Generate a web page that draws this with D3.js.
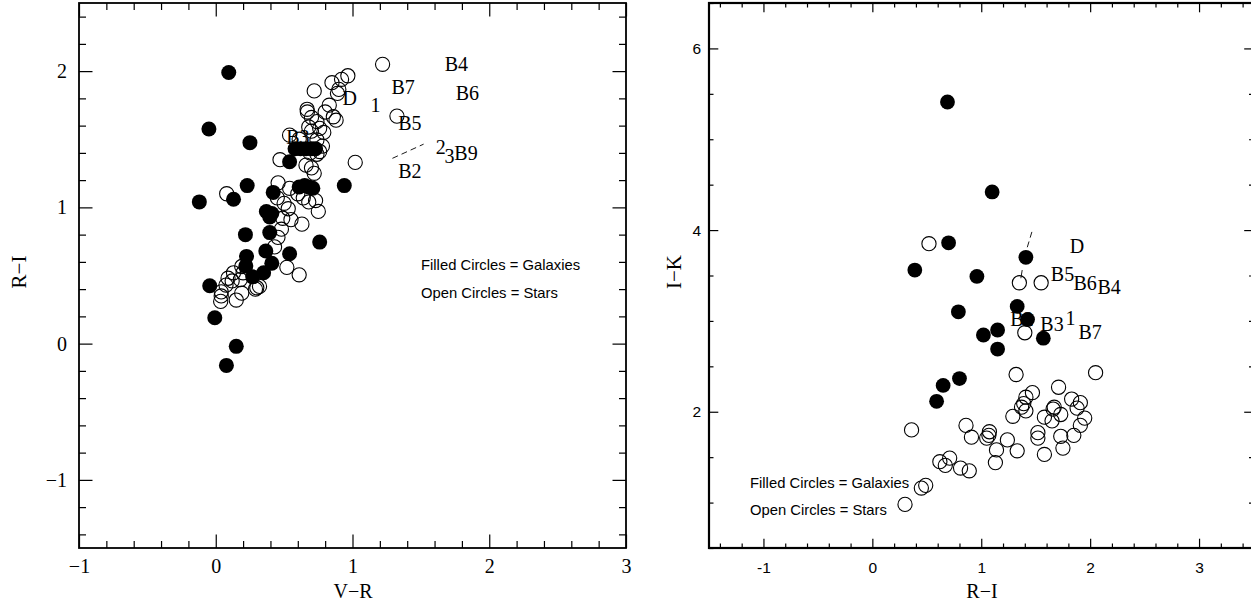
<!DOCTYPE html>
<html>
<head>
<meta charset="utf-8">
<script src="https://cdn.jsdelivr.net/npm/d3@7"></script>
<style>
  html, body { margin: 0; padding: 0; background: #fff; }
  svg { display: block; }
  .serif { font-family: "Liberation Serif", "Times New Roman", serif; }
  .sans { font-family: "Liberation Sans", Arial, sans-serif; }
</style>
</head>
<body>
<svg id="chart" width="1251" height="604"></svg>
<script>
// ---- Colour–colour diagram data ----
// Panel 1: V−R vs R−I
const galVR = [0.095, -0.05, 0.25, -0.12, 0.13, 0.23, 0.54, 0.58, 0.62, 0.66, 0.70, 0.73, 0.94, 0.42,
  0.61, 0.65, 0.68, 0.71, 0.37, 0.395, 0.41, 0.217, 0.395, 0.76, 0.366, 0.54, 0.225, 0.41, 0.22, 0.27,
  0.35, -0.044, -0.007, 0.15, 0.078];
const galRI = [1.99, 1.575, 1.475, 1.04, 1.06, 1.16, 1.335, 1.43, 1.43, 1.43, 1.43, 1.43, 1.16, 1.11,
  1.15, 1.16, 1.15, 1.14, 0.97, 0.93, 0.955, 0.80, 0.815, 0.745, 0.68, 0.66, 0.64, 0.59, 0.57, 0.49,
  0.52, 0.425, 0.19, -0.02, -0.16];

const starVR = [1.22, 0.966, 0.92, 0.85, 0.72, 0.90, 0.89, 0.668, 0.67, 0.83, 0.80, 0.86, 0.88, 0.70,
  0.74, 0.68, 0.76, 0.79, 0.54, 0.61, 0.70, 0.74, 0.78, 0.76, 0.74, 0.69, 0.47, 0.66, 0.70, 0.72, 1.02,
  1.325, 0.456, 0.54, 0.60, 0.64, 0.68, 0.75, 0.73, 0.08, 0.45, 0.50, 0.53, 0.49, 0.55, 0.63, 0.48,
  0.455, 0.43, 0.52, 0.61, 0.19, 0.13, 0.09, 0.12, 0.075, 0.04, 0.04, 0.036, 0.15, 0.19, 0.18, 0.20,
  0.30, 0.32, 0.29];
const starRI = [2.05, 1.966, 1.94, 1.915, 1.855, 1.866, 1.837, 1.72, 1.70, 1.75, 1.70, 1.665, 1.64, 1.66,
  1.63, 1.59, 1.58, 1.55, 1.53, 1.50, 1.56, 1.495, 1.45, 1.41, 1.39, 1.40, 1.35, 1.31, 1.29, 1.25, 1.33,
  1.67, 1.18, 1.14, 1.10, 1.07, 1.04, 0.97, 1.05, 1.10, 1.07, 1.03, 0.99, 0.92, 0.91, 0.877, 0.84,
  0.78, 0.71, 0.56, 0.505, 0.566, 0.52, 0.48, 0.46, 0.43, 0.38, 0.35, 0.31, 0.32, 0.37, 0.47, 0.52,
  0.41, 0.42, 0.40];

const leftLabels = ["B4", "B7", "D", "1", "B6", "B5", "2", "3", "B9", "B2", "B3"];
const leftLabelVR = [1.76, 1.37, 0.98, 1.168, 1.84, 1.42, 1.645, 1.71, 1.83, 1.42, 0.60];
const leftLabelRI = [2.05, 1.88, 1.80, 1.75, 1.836, 1.62, 1.44, 1.38, 1.40, 1.27, 1.52];
const leftDashVR = [1.292, 1.52];
const leftDashRI = [1.36, 1.464];

// Panel 2: R−I vs I−K
const galRI2 = [0.69, 1.10, 0.70, 0.39, 0.96, 1.41, 0.79, 1.33, 1.425, 1.02, 1.15, 1.15, 1.57, 0.80, 0.65, 0.59];
const galIK = [5.41, 4.42, 3.86, 3.56, 3.49, 3.70, 3.10, 3.16, 3.015, 2.845, 2.90, 2.69, 2.81, 2.365, 2.29, 2.115];

const starRI2 = [0.52, 1.35, 1.55, 1.40, 1.32, 2.05, 1.71, 1.47, 1.41, 1.39, 1.37, 1.41, 1.29, 1.83, 1.91,
  1.88, 1.66, 1.67, 1.73, 1.58, 1.65, 1.95, 1.91, 1.85, 1.73, 1.52, 1.52, 1.75, 1.58, 1.33, 1.24, 1.14,
  1.13, 1.075, 1.07, 1.05, 0.91, 0.86, 0.36, 0.71, 0.62, 0.67, 0.81, 0.89, 0.49, 0.45, 0.30];
const starIK = [3.85, 3.42, 3.42, 2.87, 2.41, 2.43, 2.27, 2.21, 2.16, 2.09, 2.05, 2.01, 1.95, 2.14, 2.10,
  2.04, 2.03, 2.05, 1.97, 1.94, 1.90, 1.93, 1.85, 1.74, 1.73, 1.77, 1.71, 1.60, 1.53, 1.57, 1.69, 1.58,
  1.44, 1.78, 1.74, 1.71, 1.72, 1.85, 1.80, 1.49, 1.45, 1.41, 1.38, 1.35, 1.19, 1.16, 0.98];

const rightLabels = ["D", "B5", "B6", "B4", "B2", "B3", "1", "B7"];
const rightLabelRI = [1.878, 1.746, 1.954, 2.174, 1.373, 1.65, 1.82, 2.0];
const rightLabelIK = [3.83, 3.52, 3.416, 3.37, 3.02, 2.97, 3.03, 2.88];
const rightDashRI = [1.465, 1.42];
const rightDashIK = [3.98, 3.80];
const rightTickRI = [1.376, 1.364];
const rightTickIK = [3.56, 3.47];

const legendLines = ["Filled Circles = Galaxies", "Open Circles = Stars"];

const svg = d3.select("#chart");

// Draws a framed panel with inward major/minor ticks on all four sides.
function panel(opt) {
  const g = svg.append("g");
  const x = d3.scaleLinear().domain(opt.xDomain).range([opt.left, opt.right]);
  const y = d3.scaleLinear().domain(opt.yDomain).range([opt.bottom, opt.top]);

  const xMinor = d3.range(Math.ceil(opt.xDomain[0] / opt.xMinorStep), Math.floor(opt.xDomain[1] / opt.xMinorStep) + 1)
    .map(i => +(i * opt.xMinorStep).toFixed(4));
  const yMinor = d3.range(Math.ceil(opt.yDomain[0] / opt.yMinorStep), Math.floor(opt.yDomain[1] / opt.yMinorStep) + 1)
    .map(i => +(i * opt.yMinorStep).toFixed(4));

  const mk = (axisFn, scale, values, size, fmt, pad) =>
    axisFn(scale).tickValues(values).tickSizeInner(-size).tickSizeOuter(0)
      .tickPadding(pad || 0).tickFormat(fmt || (() => ""));

  const sides = [
    { fn: d3.axisBottom, s: x, t: `translate(0,${opt.bottom})`, major: opt.xTicks, minor: xMinor, lab: true, fmt: opt.fmt, pad: opt.xPad },
    { fn: d3.axisTop, s: x, t: `translate(0,${opt.top})`, major: opt.xTicks, minor: xMinor },
    { fn: d3.axisLeft, s: y, t: `translate(${opt.left},0)`, major: opt.yTicks, minor: yMinor, lab: true, fmt: opt.fmt, pad: opt.yPad },
    { fn: d3.axisRight, s: y, t: `translate(${opt.right},0)`, major: opt.yTicks, minor: yMinor }
  ];
  sides.forEach(sd => {
    const gm = g.append("g").attr("transform", sd.t)
      .call(mk(sd.fn, sd.s, sd.minor.filter(v => !sd.major.includes(v)), opt.minorLen));
    gm.select(".domain").remove();
    const gM = g.append("g").attr("transform", sd.t)
      .call(mk(sd.fn, sd.s, sd.major, opt.majorLen, sd.lab ? sd.fmt : null, sd.pad));
    gM.select(".domain").remove();
    gM.selectAll("text").attr("class", opt.tickClass).style("font-size", opt.tickFont + "px").attr("fill", "#000");
    g.selectAll("line").attr("stroke", "#000").attr("stroke-width", 1.2);
  });

  g.append("rect")
    .attr("x", opt.left).attr("y", opt.top)
    .attr("width", opt.right - opt.left).attr("height", opt.bottom - opt.top)
    .attr("fill", "none").attr("stroke", "#000").attr("stroke-width", opt.frameWidth);

  return { g, x, y };
}

function points(p, xs, ys, filled, r) {
  p.g.append("g").selectAll("circle")
    .data(xs.map((v, i) => [v, ys[i]]))
    .join("circle")
    .attr("cx", d => p.x(d[0])).attr("cy", d => p.y(d[1]))
    .attr("r", r)
    .attr("fill", filled ? "#000" : "none")
    .attr("stroke", "#000")
    .attr("stroke-width", filled ? 0 : 1.1);
}

function labels(p, texts, xs, ys, size) {
  p.g.append("g").selectAll("text")
    .data(texts.map((t, i) => [t, xs[i], ys[i]]))
    .join("text")
    .attr("class", "serif")
    .attr("x", d => p.x(d[1])).attr("y", d => p.y(d[2]))
    .attr("text-anchor", "middle").attr("dominant-baseline", "central")
    .style("font-size", size + "px")
    .text(d => d[0]);
}

function segment(p, xs, ys, dash) {
  p.g.append("line")
    .attr("x1", p.x(xs[0])).attr("y1", p.y(ys[0]))
    .attr("x2", p.x(xs[1])).attr("y2", p.y(ys[1]))
    .attr("stroke", "#000").attr("stroke-width", 0.9)
    .attr("stroke-dasharray", dash ? "6,4" : null);
}

function legend(xPos, yPos) {
  svg.append("g").selectAll("text")
    .data(legendLines)
    .join("text")
    .attr("class", "sans")
    .attr("x", xPos).attr("y", (d, i) => yPos + i * 27.8)
    .attr("dominant-baseline", "central")
    .style("font-size", "14.8px")
    .text(d => d);
}

// ---- Left panel: V−R / R−I ----
const L = panel({
  left: 79, right: 626, top: 3, bottom: 548,
  xDomain: [-1, 3], yDomain: [-1.5, 2.5],
  xTicks: [-1, 0, 1, 2, 3], yTicks: [-1, 0, 1, 2],
  xMinorStep: 0.2, yMinorStep: 0.2,
  majorLen: 13.5, minorLen: 7, frameWidth: 1.8,
  tickClass: "serif", tickFont: 20, fmt: d3.format("d"), xPad: 11, yPad: 12
});
labels(L, leftLabels, leftLabelVR, leftLabelRI, 20);
segment(L, leftDashVR, leftDashRI, true);
points(L, starVR, starRI, false, 7.1);
points(L, galVR, galRI, true, 7.5);
legend(421, 265);

svg.append("text").attr("class", "serif")
  .attr("x", 353).attr("y", 591).attr("text-anchor", "middle").attr("dominant-baseline", "central")
  .style("font-size", "20px").text("V\u2212R");
svg.append("text").attr("class", "serif")
  .attr("transform", "translate(19,272) rotate(-90)")
  .attr("text-anchor", "middle").attr("dominant-baseline", "central")
  .style("font-size", "21px").text("R\u2212I");

// ---- Right panel: R−I / I−K ----
const R = panel({
  left: 709, right: 1253.5, top: 3, bottom: 548,
  xDomain: [-1.5, 3.5], yDomain: [0.5, 6.5],
  xTicks: [-1, 0, 1, 2, 3], yTicks: [2, 4, 6],
  xMinorStep: 0.2, yMinorStep: 0.5,
  majorLen: 9.3, minorLen: 4.5, frameWidth: 2.2,
  tickClass: "sans", tickFont: 15.5, fmt: d => String(d), xPad: 14, yPad: 8
});
labels(R, rightLabels, rightLabelRI, rightLabelIK, 20);
segment(R, rightDashRI, rightDashIK, true);
segment(R, rightTickRI, rightTickIK, false);
points(R, starRI2, starIK, false, 7.1);
points(R, galRI2, galIK, true, 7.4);
legend(750, 482.6);

svg.append("text").attr("class", "serif")
  .attr("x", 982).attr("y", 591).attr("text-anchor", "middle").attr("dominant-baseline", "central")
  .style("font-size", "20px").text("R\u2212I");
svg.append("text").attr("class", "serif")
  .attr("transform", "translate(674,272) rotate(-90)")
  .attr("text-anchor", "middle").attr("dominant-baseline", "central")
  .style("font-size", "21px").text("I\u2212K");
</script>
</body>
</html>
